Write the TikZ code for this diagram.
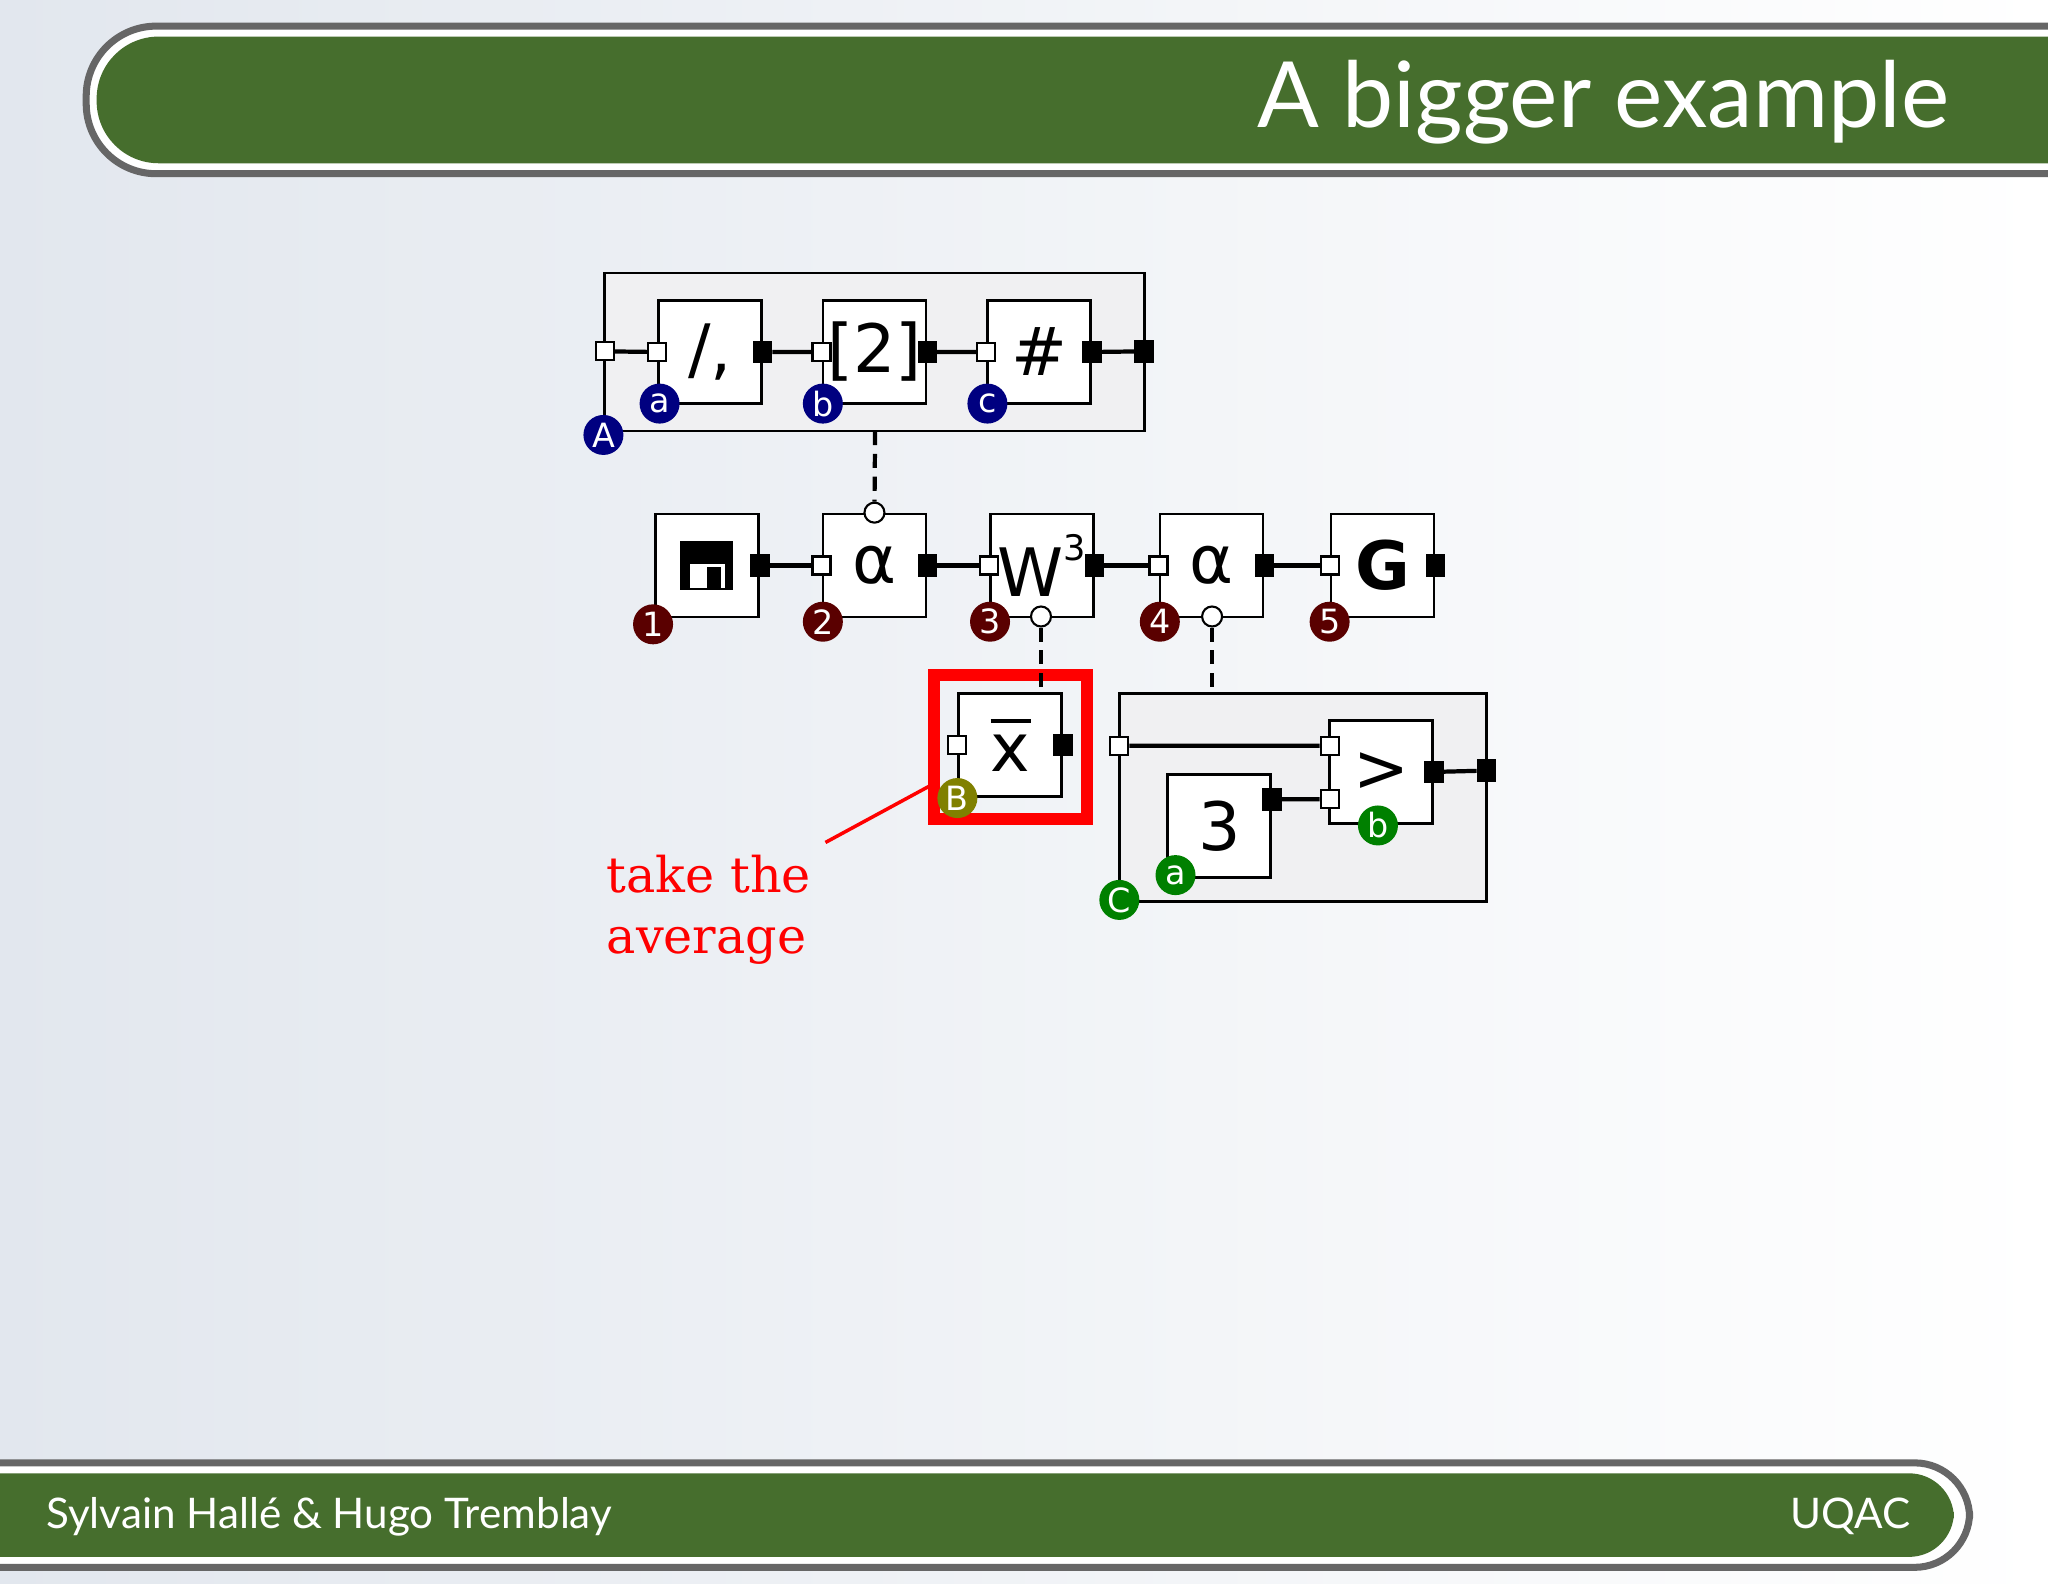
\documentclass[tikz,border=0pt]{standalone}
\usepackage{fontspec}
\setmainfont{DejaVu Sans}
\newfontfamily\titlefont{Lato}
\newfontfamily\notefont{DejaVu Serif}
\usetikzlibrary{positioning}
\definecolor{barGreen}{RGB}{70,110,45}
\definecolor{bgBlue}{RGB}{226,231,238}
\definecolor{grpGray}{RGB}{240,240,242}
\definecolor{navyTag}{RGB}{0,0,128}
\definecolor{maroonTag}{RGB}{90,0,0}
\definecolor{greenTag}{RGB}{0,128,0}
\definecolor{oliveTag}{RGB}{128,128,0}
\tikzset{
  proc/.style={draw,fill=white,line width=0.8pt,minimum width=1.03cm,minimum height=1.03cm,inner sep=0pt,font=\fontsize{19}{21}\selectfont},
  grp/.style={draw,fill=grpGray,line width=0.8pt},
  inport/.style={draw,fill=white,line width=0.6pt,minimum size=0.18cm,inner sep=0pt},
  outport/.style={draw,fill=black,minimum width=0.18cm,minimum height=0.21cm,inner sep=0pt},
  ctrl/.style={circle,draw,fill=white,line width=0.6pt,minimum size=0.2cm,inner sep=0pt},
  tag/.style={circle,fill=#1,text=white,minimum size=0.4cm,inner sep=0pt,font=\fontsize{9.5}{10}\selectfont},
  pipe/.style={line width=1.2pt},
  dashpipe/.style={line width=1.2pt,dash pattern=on 4pt off 2.5pt}
}
\begin{document}
\begin{tikzpicture}[x=0.01306cm,y=-0.01306cm]
\useasboundingbox (0,0) rectangle (1568,1212);
\shade[left color=bgBlue,right color=white] (0,0) rectangle (1568,1212);
% title bar
\filldraw[fill=white,draw=gray!80!black,line width=2pt,rounded corners=0.7cm] (1575,20) -| (66,133) -- (1575,133);
\fill[barGreen,rounded corners=0.62cm] (1575,28) -| (74,125) -- (1575,125);
\node[anchor=east,text=white,font=\titlefont\fontsize{26}{30}\selectfont] (title) at (1502,78) {A bigger example};
% footer bar
\filldraw[fill=white,draw=gray!80!black,line width=2pt,rounded corners=0.55cm] (-5,1120) -| (1508,1200) -- (-5,1200);
\fill[barGreen,rounded corners=0.45cm] (-5,1128) -| (1496,1192) -- (-5,1192);
\node[anchor=west,text=white,font=\titlefont\fontsize{12}{14}\selectfont] (authors) at (26,1161) {Sylvain Hallé \& Hugo Tremblay};
\node[anchor=east,text=white,font=\titlefont\fontsize{12}{14}\selectfont] (inst) at (1472,1161) {UQAC};

% group A
\draw[grp] (463,209) rectangle (876,330);
\node[proc] (split) at (543.5,269.5) {/,};
\node[proc] (nth) at (669.5,269.5) {[2]};
\node[proc] (count) at (795.5,269.5) {\#};
\node[inport] (gAin) at (463,269) {};
\node[outport] (gAout) at (876,269) {};
\node[inport] (splitin) at (split.west) {};
\node[outport] (splitout) at (split.east) {};
\node[inport] (nthin) at (nth.west) {};
\node[outport] (nthout) at (nth.east) {};
\node[inport] (countin) at (count.west) {};
\node[outport] (countout) at (count.east) {};
\draw[pipe] (gAin) -- (splitin) (splitout) -- (nthin) (nthout) -- (countin) (countout) -- (gAout);
\node[tag=navyTag] (tA) at (462,333) {A};
\node[tag=navyTag] (ta) at (505,309) {a};
\node[tag=navyTag] (tb) at (630,309) {b};
\node[tag=navyTag] (tc) at (756,309) {c};

% main chain
\node[proc] (read) at (541.5,433) {};
\node[proc] (app1) at (669.5,433) {α};
\node[proc] (win) at (797.5,433) {W\raisebox{0.55em}{\fontsize{10}{11}\selectfont 3}};
\node[proc] (app2) at (927.5,433) {α};
\node[proc] (out) at (1058.5,433) {\textbf{G}};
% floppy
\fill (521,414) rectangle (561,452);
\fill[white] (528,432) rectangle (555,450);
\fill (541,434) rectangle (552,450);
\node[outport] (readout) at (read.east) {};
\node[inport] (app1in) at (app1.west) {};
\node[outport] (app1out) at (app1.east) {};
\node[inport] (winin) at (win.west) {};
\node[outport] (winout) at (win.east) {};
\node[inport] (app2in) at (app2.west) {};
\node[outport] (app2out) at (app2.east) {};
\node[inport] (outin) at (out.west) {};
\node[outport] (outout) at (out.east) {};
\draw[pipe] (readout) -- (app1in) (app1out) -- (winin) (winout) -- (app2in) (app2out) -- (outin);
\node[ctrl] (app1c) at (app1.north) {};
\node[ctrl] (winc) at (797,472) {};
\node[ctrl] (app2c) at (928,472) {};
\node[tag=maroonTag] (t1) at (500,478) {1};
\node[tag=maroonTag] (t2) at (630,476) {2};
\node[tag=maroonTag] (t3) at (758,476) {3};
\node[tag=maroonTag] (t4) at (888,476) {4};
\node[tag=maroonTag] (t5) at (1018,476) {5};

% average
\node[proc] (avg) at (773.5,570.5) {\rlap{\rule[0.72em]{0.6em}{1.2pt}}x};
\node[inport] (avgin) at (avg.west) {};
\node[outport] (avgout) at (avg.east) {};
\draw[red,line width=3.5pt] (715,517) rectangle (832,627);
\node[tag=oliveTag] (tB) at (733,611) {B};
\coordinate (avgtop) at (797,531);

% group C
\draw[grp] (857,531) rectangle (1138,690);
\coordinate (gCtop) at (928,531);
\node[proc] (three) at (933.5,632.5) {3};
\node[proc] (gt) at (1057.5,591) {>};
\node[inport] (gCin) at (857,571) {};
\node[outport] (gCout) at (1138,590) {};
\node[outport] (threeout) at (three.east |- 0,612) {};
\node[inport] (gtin1) at (1018,571) {};
\node[inport] (gtin2) at (1018,612) {};
\node[outport] (gtout) at (gt.east) {};
\draw[pipe] (gCin) -- (gtin1) (threeout) -- (gtin2) (gtout) -- (gCout);
\node[tag=greenTag] (tC) at (857,689) {C};
\node[tag=greenTag] (ta2) at (900,670) {a};
\node[tag=greenTag] (tb2) at (1055,632) {b};

\draw[dashpipe] (670,330) -- (app1c);
\draw[dashpipe] (winc) -- (avgtop);
\draw[dashpipe] (app2c) -- (gCtop);

% note
\node[anchor=north west,text=red,align=left,font=\notefont\fontsize{14}{17.5}\selectfont] (note) at (455,645) {take the\\average};
\coordinate (noteend) at (632,645);
\draw[red,line width=1pt] (noteend) -- (715,600);
\end{tikzpicture}
\end{document}
